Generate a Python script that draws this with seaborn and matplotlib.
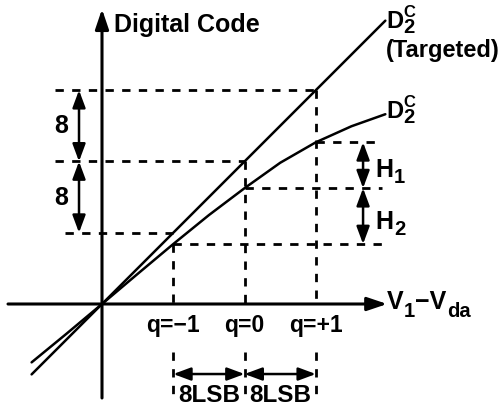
import matplotlib
matplotlib.use("Agg")
import matplotlib.pyplot as plt
import seaborn as sns
import pandas as pd

# Transfer characteristic, both axes in LSB
target_in = [-7.9, 31.8]
target_code = [-7.9, 31.8]
actual_in = [-7.9, -4, 0, 4, 8, 12, 16, 20, 24, 28, 31.8]
actual_code = [-6.55, -3.35, 0, 3.38, 6.73, 9.98, 13.0, 15.85, 18.15,
               19.95, 21.3]

# Sampling points q = -1, 0, +1
q_labels = ["q=\u22121", "q=0", "q=+1"]
q_in = [8, 16, 24]
q_target = [8, 16, 24]
q_actual = [6.73, 13.0, 18.15]
step_label = "8"
lsb_label = "8LSB"

sns.set_theme(style="white")
plt.rcParams["font.family"] = ["Liberation Sans", "DejaVu Sans"]
plt.rcParams["font.weight"] = "bold"

S = 8.91  # pixels per LSB
fig = plt.figure(figsize=(5.01, 4.11), dpi=100)
ax = fig.add_axes([0, 0, 1, 1])
ax.set_xlim(-102 / S, (501 - 102) / S)
ax.set_ylim(-(411 - 304) / S, 304 / S)
ax.axis("off")

K = "black"

# main axes with arrow heads
ax_arrow = dict(arrowstyle="-|>,head_length=0.8,head_width=0.27", lw=2.2,
                color=K, mutation_scale=15, shrinkA=0, shrinkB=0)
ax.annotate("", xy=(32.0, 0), xytext=(-10.55, 0), arrowprops=ax_arrow)
ax.annotate("", xy=(0, 33.1), xytext=(0, -10.55), arrowprops=ax_arrow)

# targeted and actual curves
df_t = pd.DataFrame({"x": target_in, "y": target_code})
df_a = pd.DataFrame({"x": actual_in, "y": actual_code})
sns.lineplot(data=df_t, x="x", y="y", ax=ax, color=K, lw=1.8, sort=False)
sns.lineplot(data=df_a, x="x", y="y", ax=ax, color=K, lw=1.8, sort=False)
ax.set_xlabel("")
ax.set_ylabel("")

dash = dict(color=K, lw=2.0, linestyle=(0, (3, 3)))
# targeted code levels
starts = [-4.15, -5.27, -5.27]
for xs, xi, yt in zip(starts, q_in, q_target):
    ax.plot([xs, xi], [yt, yt], **dash)
# actual code levels
ends = [31.8, 31.4, 31.4]
for xi, ya, xe in zip(q_in, q_actual, ends):
    ax.plot([xi, xe], [ya, ya], **dash)
# vertical guides
tops = [q_actual[0], q_target[1], q_target[2]]
for xi, yt in zip(q_in, tops):
    ax.plot([xi, xi], [yt, 0], **dash)
    ax.plot([xi, xi], [-5.4, -10.55], **dash)

# dimension arrows
dim = dict(arrowstyle="<|-|>,head_length=0.7,head_width=0.26", lw=1.8,
           color=K, mutation_scale=15, shrinkA=0, shrinkB=0)
for a, b in zip(q_target[:-1], q_target[1:]):
    ax.annotate("", xy=(-2.58, a), xytext=(-2.58, b), arrowprops=dim)
for a, b in zip(q_actual[:-1], q_actual[1:]):
    ax.annotate("", xy=(29.3, a), xytext=(29.3, b), arrowprops=dim)
for a, b in zip(q_in[:-1], q_in[1:]):
    ax.annotate("", xy=(a, -7.86), xytext=(b, -7.86), arrowprops=dim)


def px(x, y):
    return (x - 102) / S, (304 - y) / S


def label(x, y, s, size=18, ha="left"):
    u, v = px(x, y)
    ax.text(u, v, s, fontsize=size, fontweight="bold", ha=ha, va="baseline",
            color=K)


label(114, 32, "Digital Code")
label(386, 57, "(Targeted)", 17)
for base in (28, 118):
    label(386, base, "D", 17)
    label(403, base - 11, "C", 12)
    label(403, base + 5, "2", 14.5)

label(54, 133, step_label)
label(54, 205, step_label)

label(375, 177, "H")
label(394, 183, "1", 14.5)
label(375, 229, "H")
label(394, 235, "2", 14.5)

label(387, 309, "V")
label(404, 317, "1", 14.5)
label(415.5, 309, "\u2212V")
label(447, 317, "da", 14.5)

for xi, s in zip(q_in, q_labels):
    ax.text(xi, px(0, 332)[1], s, fontsize=16.5, fontweight="bold",
            ha="center", va="baseline", color=K)
for a, b in zip(q_in[:-1], q_in[1:]):
    ax.text((a + b) / 2, px(0, 402)[1], lsb_label, fontsize=17.5,
            fontweight="bold", ha="center", va="baseline", color=K)

fig.savefig("out.png", dpi=100)
